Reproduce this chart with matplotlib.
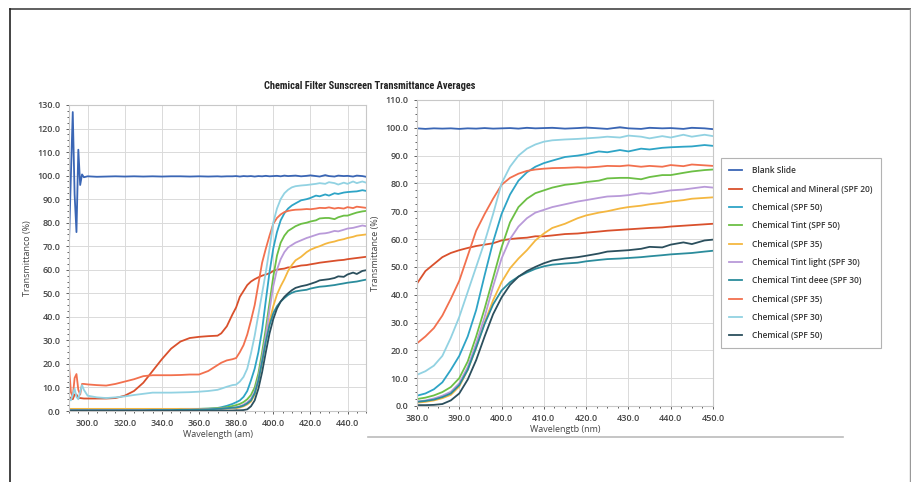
import matplotlib
matplotlib.use("Agg")
import matplotlib.pyplot as plt
from matplotlib.lines import Line2D
from matplotlib.ticker import MultipleLocator, FormatStrFormatter

plt.rcParams['font.family'] = ['Open Sans', 'DejaVu Sans']

# wavelength grid (nm)
wl = [290, 291, 292, 293, 294, 295, 296, 297, 298, 300,
      305, 310, 315, 320, 325, 330, 335, 340, 345, 350,
      355, 360, 365, 370, 372, 375, 378, 380, 382, 384,
      386, 388, 390, 392, 394, 396, 398, 400, 402, 404,
      406, 408, 410, 412, 415, 418, 420, 423, 425, 428,
      430, 433, 435, 438, 440, 443, 445, 448, 450]

blank = [72, 100, 127, 92, 76, 111, 96, 100.5, 99.3, 99.7,
         99.5, 99.6, 99.7, 99.6, 99.7, 99.6, 99.7, 99.6, 99.7, 99.7,
         99.6, 99.7, 99.6, 99.7, 99.6, 99.7, 99.7, 99.8, 99.6, 99.8,
         99.7, 99.8, 99.6, 99.8, 99.7, 99.9, 99.7, 99.8, 99.9, 99.7,
         100.0, 99.8, 99.9, 100.0, 99.7, 99.9, 100.1, 99.8, 99.6, 100.2,
         99.8, 99.6, 100.0, 99.8, 99.9, 99.6, 100.0, 99.8, 99.5]

chem_mineral_20 = [6, 5.5, 5, 7, 7, 5.5, 5.5, 5.4, 5.3, 5.3,
                   5.3, 5.3, 5.5, 6.5, 8.5, 12, 17, 22, 26.5, 29.5,
                   31, 31.5, 31.8, 32, 33, 36, 41, 44, 48.5, 51,
                   53.5, 55, 56, 56.8, 57.5, 58, 58.5, 59.5, 60, 60.3,
                   60.5, 61, 61, 61.3, 61.8, 62, 62.3, 62.7, 63, 63.3,
                   63.5, 63.8, 64, 64.2, 64.5, 64.8, 65, 65.3, 65.5]

chem_50_a = [0.5, 0.5, 0.5, 0.5, 0.5, 0.5, 0.5, 0.5, 0.5, 0.5,
             0.5, 0.5, 0.5, 0.5, 0.6, 0.6, 0.6, 0.7, 0.7, 0.8,
             0.8, 0.9, 1.0, 1.3, 1.6, 2.2, 3.0, 3.7, 4.5, 6,
             8.5, 13, 18, 25, 34.5, 47, 59, 69, 76, 81,
             84, 86, 87.3, 88.2, 89.5, 90, 90.5, 91.5, 91.2, 92,
             91.5, 92.5, 92.2, 92.8, 93, 93.2, 93.3, 93.8, 93.5]

tint_50 = [0.8, 0.8, 0.8, 0.8, 0.8, 0.8, 0.8, 0.8, 0.8, 0.8,
           0.8, 0.8, 0.8, 0.8, 0.8, 0.8, 0.8, 0.8, 0.8, 0.9,
           0.9, 0.9, 1.0, 1.1, 1.3, 1.6, 2.1, 2.5, 3, 3.8,
           5, 6.8, 10, 16, 25, 35, 46, 57, 66, 71.5,
           74.5, 76.5, 77.5, 78.5, 79.5, 80, 80.5, 81, 81.8, 82,
           82, 81.5, 82.3, 83, 83, 83.8, 84.3, 84.8, 85]

chem_35_a = [0.9, 0.9, 0.9, 0.9, 0.9, 0.9, 0.9, 0.9, 0.9, 0.9,
             0.9, 0.9, 0.9, 0.9, 0.9, 0.9, 0.9, 0.9, 0.9, 0.9,
             0.9, 0.9, 0.9, 1.0, 1.0, 1.1, 1.1, 1.2, 1.5, 2,
             2.8, 4, 7, 13, 21, 30, 38, 44.5, 49.5, 53,
             56, 59.5, 62, 64, 65.5, 67.5, 68.5, 69.5, 70, 71,
             71.5, 72, 72.5, 73, 73.5, 74, 74.5, 74.8, 75]

tint_light_30 = [0.4, 0.4, 0.4, 0.4, 0.4, 0.4, 0.4, 0.4, 0.4, 0.4,
                 0.4, 0.4, 0.4, 0.4, 0.4, 0.4, 0.5, 0.5, 0.5, 0.5,
                 0.6, 0.6, 0.7, 0.9, 1.0, 1.2, 1.4, 1.6, 2, 2.7,
                 3.7, 5.1, 8.2, 14, 22.5, 32, 43, 53, 60, 64.5,
                 67.5, 69.5, 70.5, 71.5, 72.5, 73.5, 74, 74.8, 75.3, 75.5,
                 75.8, 76.5, 76.3, 77, 77.5, 77.8, 78.2, 78.8, 78.5]

tint_deee_30 = [0.3, 0.3, 0.3, 0.3, 0.3, 0.3, 0.3, 0.3, 0.3, 0.3,
                0.3, 0.3, 0.3, 0.3, 0.3, 0.3, 0.4, 0.4, 0.4, 0.5,
                0.5, 0.6, 0.7, 0.9, 1.0, 1.2, 1.4, 1.5, 1.8, 2.3,
                3.2, 4.5, 7.5, 13, 21, 29.5, 36.5, 41.5, 44.5, 46.5,
                48, 49.3, 50.2, 50.8, 51.2, 51.5, 52, 52.5, 52.8, 53,
                53.2, 53.5, 53.8, 54.2, 54.5, 54.8, 55, 55.5, 55.8]

chem_35_b = [19, 8, 6, 14, 15.7, 9, 7, 11.5, 11.5, 11.3,
             11, 10.8, 11.5, 12.5, 13.5, 14.8, 15.2, 15.2, 15.2, 15.3,
             15.5, 15.5, 17, 19.5, 20.5, 21.5, 22, 22.5, 25, 28,
             32.5, 38.5, 45, 54, 63, 69, 74.5, 79.5, 82, 83.5,
             84.5, 85, 85.3, 85.5, 85.6, 85.8, 85.7, 86, 86.3, 86.2,
             86.5, 86, 86.3, 86, 86.6, 86.2, 86.8, 86.5, 86.3]

chem_30 = [5, 4.5, 7, 9.5, 6, 5, 8, 11, 9, 6.5,
           5.8, 5.5, 5.8, 6.2, 6.8, 7.3, 7.8, 7.8, 7.8, 7.9,
           8, 8.2, 8.5, 9, 9.5, 10.3, 11, 11.2, 12.5, 14.5,
           18, 24.5, 32, 41, 50, 59, 69, 80, 86, 90,
           92.5, 94, 95, 95.5, 95.8, 96, 96.2, 96.5, 96.8, 96.5,
           97.2, 96.8, 96.2, 97, 96.5, 97.5, 96.8, 97.5, 97]

chem_50_b = [0.1, 0.1, 0.1, 0.1, 0.1, 0.1, 0.1, 0.1, 0.1, 0.1,
             0.1, 0.1, 0.1, 0.1, 0.1, 0.1, 0.1, 0.1, 0.1, 0.1,
             0.1, 0.1, 0.1, 0.1, 0.2, 0.2, 0.2, 0.3, 0.3, 0.4,
             0.7, 2, 4.5, 9.5, 16.5, 25, 33, 39, 43.5, 46.5,
             48.5, 50, 51.3, 52.3, 53, 53.5, 54, 54.8, 55.5, 55.8,
             56, 56.5, 57.2, 57, 58, 58.8, 58.2, 59.5, 59.8]

labels = ['Blank Slide', 'Chemical and Mineral (SPF 20)', 'Chemical (SPF 50)',
          'Chemical Tint (SPF 50)', 'Chemical (SPF 35)', 'Chemical Tint light (SPF 30)',
          'Chemical Tint deee (SPF 30)', 'Chemical (SPF 35)', 'Chemical (SPF 30)',
          'Chemical (SPF 50)']
series = [blank, chem_mineral_20, chem_50_a, tint_50, chem_35_a, tint_light_30,
          tint_deee_30, chem_35_b, chem_30, chem_50_b]
colors = ['#3a66b5', '#d9502c', '#2ea4c6', '#6cbf45', '#f4b740', '#b99ad9',
          '#2b8c9c', '#f2704e', '#92d2e2', '#2b4f5d']

fig = plt.figure(figsize=(9.12, 4.82), dpi=100)
ax1 = fig.add_axes([0.0757, 0.1473, 0.3257, 0.6349])
ax2 = fig.add_axes([0.4572, 0.1577, 0.3246, 0.6349])

handles = []
for vals, c, lab in zip(series, colors, labels):
    ax1.plot(wl, vals, color=c, lw=1.3)
    h, = ax2.plot(wl, vals, color=c, lw=1.3, label=lab)
    handles.append(h)

tick_kw = dict(labelsize=6.5, colors='#444444', length=2.5, width=0.6)
for ax in (ax1, ax2):
    ax.grid(True, which='major', color='#dadada', lw=0.7)
    for s in ax.spines.values():
        s.set_color('#c8c8c8')
        s.set_linewidth(0.8)
    ax.tick_params(which='both', **tick_kw)
    ax.tick_params(which='minor', length=1.5)
    ax.xaxis.set_major_formatter(FormatStrFormatter('%.1f'))
    ax.yaxis.set_major_formatter(FormatStrFormatter('%.1f'))

ax1.set_xlim(290, 450)
ax1.set_ylim(0, 130)
ax1.xaxis.set_minor_locator(MultipleLocator(5))
ax1.yaxis.set_major_locator(MultipleLocator(10))
ax1.yaxis.set_minor_locator(MultipleLocator(2.5))
ax1.set_xticks([300, 320, 340, 360, 380, 400, 420, 440])
ax1.set_xlabel('Wavelength (am)', fontsize=6.5, color='#444444', labelpad=1)
ax1.set_ylabel('Transmittanco (%)', fontsize=6.5, color='#444444', labelpad=4)

ax2.set_xlim(380, 450)
ax2.set_ylim(0, 110)
ax2.xaxis.set_major_locator(MultipleLocator(10))
ax2.xaxis.set_minor_locator(MultipleLocator(2.5))
ax2.yaxis.set_major_locator(MultipleLocator(10))
ax2.yaxis.set_minor_locator(MultipleLocator(2.5))
ax2.set_xlabel('Wavelengtb (nm)', fontsize=6.5, color='#444444', labelpad=1)
ax2.set_ylabel('Transmittance (%)', fontsize=6.5, color='#444444', labelpad=4)

for ax in (ax1, ax2):
    for t in ax.get_xticklabels() + ax.get_yticklabels():
        t.set_fontweight('semibold')

leg = fig.legend(handles=handles, loc='upper left', bbox_to_anchor=(0.786, 0.68),
                 fontsize=6.0, frameon=True, fancybox=False, handlelength=1.6,
                 labelspacing=1.12, borderpad=0.95, handletextpad=1.2)
leg.get_frame().set_edgecolor('#a0a0a0')
leg.get_frame().set_linewidth(0.8)
for t in leg.get_texts():
    t.set_fontweight('semibold')
    t.set_color('#333333')

fig.text(0.405, 0.821, 'Chemical Filter Sunscreen Transmittance Averages',
         ha='center', va='center', fontsize=7.5, fontweight='bold',
         family=['Roboto Condensed', 'Roboto', 'DejaVu Sans'], color='#222222')

# outer frame lines
fig.add_artist(Line2D([0.011, 0.999], [0.981, 0.981], color='#444444', lw=1.2))
fig.add_artist(Line2D([0.011, 0.011], [0.0, 0.981], color='#222222', lw=1.2))
fig.add_artist(Line2D([0.998, 0.998], [0.0, 0.981], color='#999999', lw=1.0))
fig.add_artist(Line2D([0.404, 0.924], [0.093, 0.093], color='#bbbbbb', lw=1.2))

fig.savefig('out.png', dpi=100)
